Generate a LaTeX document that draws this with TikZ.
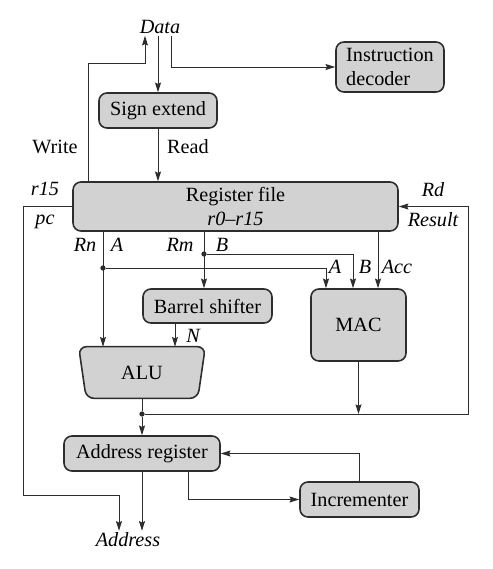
\documentclass[tikz,border=0pt]{standalone}
\usepackage{fontspec}
\setmainfont{Liberation Serif}
\newfontfamily\diagfont[Ligatures=TeX]{Liberation Serif}
\usetikzlibrary{arrows.meta,backgrounds}
\definecolor{boxgray}{RGB}{210,210,210}
\definecolor{linegray}{RGB}{45,45,45}

\begin{document}
\begin{tikzpicture}[x=0.02cm, y=-0.02cm, font=\diagfont\fontsize{11.5}{13.5}\selectfont]
  \tikzstyle{block} = [rectangle, rounded corners=4.5pt, draw=linegray, fill=boxgray, line width=0.9pt, inner sep=0pt]
  \tikzstyle{lbl_it} = [inner sep=1pt, font=\diagfont\fontsize{11.5}{13.5}\selectfont\itshape]
  \tikzstyle{lbl_rm} = [inner sep=1pt]
  \tikzstyle{arrow} = [-{Stealth[length=5.5pt, width=3.4pt, inset=0.8pt]}, draw=linegray, line width=0.55pt]
  \tikzstyle{wire} = [-, draw=linegray, line width=0.55pt]
  \tikzstyle{joint} = [circle, fill=linegray, inner sep=0pt, minimum size=3pt]

  \useasboundingbox (0,0) rectangle (493,569);

  \node [block, minimum width=2.36cm, minimum height=0.7cm] at (158,110.5) (sign_extend) {Sign extend};
  \node [block, minimum width=2.16cm, minimum height=1.0cm, align=left] at (390,67) (instr_decoder) {Instruction\\decoder};
  \node [block, minimum width=6.5cm, minimum height=0.98cm, align=center] at (235.5,206.5) (register_file) {Register file\\\textit{r0–r15}};
  \node [block, minimum width=2.58cm, minimum height=0.68cm] at (207.5,306) (barrel) {Barrel shifter};
  \node [block, minimum width=1.9cm, minimum height=1.44cm] at (358.5,325) (mac) {MAC};
  \node [minimum width=2.52cm, minimum height=1.02cm, inner sep=0pt] at (142,372.5) (alu) {ALU};
  \node [block, minimum width=3.12cm, minimum height=0.7cm] at (142,453.5) (addr_reg) {Address register};
  \node [block, minimum width=2.38cm, minimum height=0.7cm] at (359.5,499.5) (incrementer) {Incrementer};

  \begin{scope}[on background layer]
    \draw [fill=boxgray, draw=linegray, line width=0.9pt, rounded corners=4.5pt]
      (alu.north west) -- (alu.north east) -- ([xshift=-0.15cm]alu.south east) -- ([xshift=0.15cm]alu.south west) -- cycle;
  \end{scope}

  \node [lbl_it] at (160,27) (data) {Data};
  \node [lbl_it] at (128,540) (address) {Address};
  \node [lbl_rm] at (55,147) (lbl_write) {Write};
  \node [lbl_rm] at (188,147) (lbl_read) {Read};
  \node [lbl_it] at (45,189) (lbl_r15) {r15};
  \node [lbl_it] at (45,222) (lbl_pc) {pc};
  \node [lbl_it] at (433,190) (lbl_rd) {Rd};
  \node [lbl_it] at (433,220) (lbl_result) {Result};
  \node [lbl_it] at (85,245) (lbl_rn) {Rn};
  \node [lbl_it] at (117,245) (lbl_a) {A};
  \node [lbl_it] at (180,245) (lbl_rm) {Rm};
  \node [lbl_it] at (222,245) (lbl_b) {B};
  \node [lbl_it] at (335,267) (lbl_mac_a) {A};
  \node [lbl_it] at (365,267) (lbl_mac_b) {B};
  \node [lbl_it] at (397,267) (lbl_acc) {Acc};
  \node [lbl_it] at (193,336) (lbl_n) {N};

  \node [joint] at (103,268) (dot_a) {};
  \node [joint] at (204,254) (dot_b) {};
  \node [joint] at (142,414) (dot_bus) {};

  \draw[arrow] (sign_extend.north |- data.south) -- (sign_extend.north);
  \draw[arrow] (171,0 |- data.south) |- (instr_decoder.west);
  \draw[arrow] (88,0 |- register_file.north) |- (145,63) -- (145,0 |- data.south);
  \draw[arrow] (sign_extend) -- (register_file.north -| sign_extend);
  \draw[arrow] (register_file.west) -| (23,495) -| (119,0 |- address.north);
  \draw[arrow] (register_file.south -| dot_a) -- (alu.north -| dot_a);
  \draw[arrow] (dot_a) -| (326,0 |- mac.north);
  \draw[arrow] (register_file.south -| dot_b) -- (barrel.north -| dot_b);
  \draw[arrow] (dot_b) -| (353,0 |- mac.north);
  \draw[arrow] (register_file.south -| 378,0) -- (378,0 |- mac.north);
  \draw[arrow] (barrel.south -| 175,0) -- (175,0 |- alu.north);
  \draw[wire] (alu.south) -- (dot_bus);
  \draw[arrow] (dot_bus) -- (addr_reg.north);
  \draw[arrow] (dot_bus) -| (468,0 |- register_file.east) -- (register_file.east);
  \draw[arrow] (mac.south) -- (mac.south |- dot_bus);
  \draw[arrow] (addr_reg.south) -- (addr_reg.south |- address.north);
  \draw[arrow] (188,0 |- addr_reg.south) |- (incrementer.west);
  \draw[arrow] (incrementer.north) |- (addr_reg.east);
\end{tikzpicture}
\end{document}
